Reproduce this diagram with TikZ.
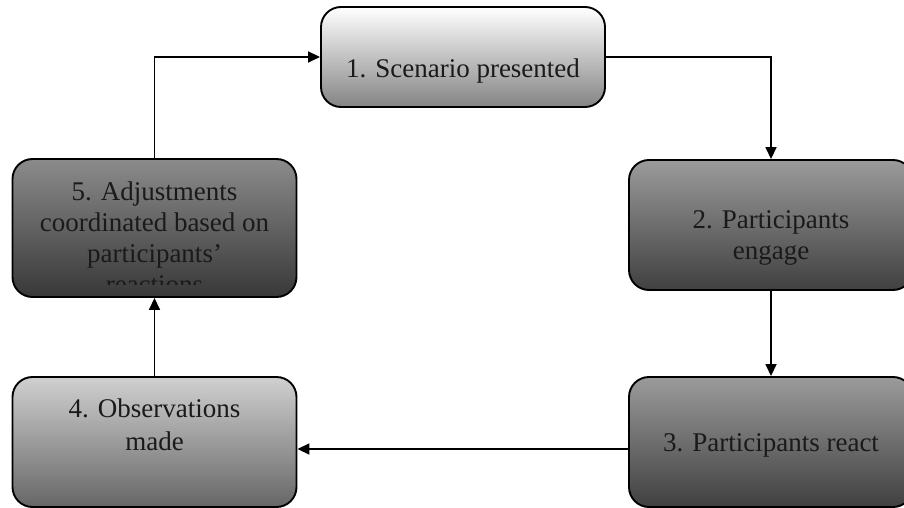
\documentclass[tikz,border=0pt]{standalone}
\usepackage{fontspec}
\setmainfont{Liberation Serif}
\usetikzlibrary{arrows.meta}
\definecolor{aTop}{HTML}{FFFFFF}
\definecolor{aBot}{HTML}{848484}
\definecolor{bTop}{HTML}{9B9B9B}
\definecolor{bBot}{HTML}{404040}
\definecolor{dTop}{HTML}{D0D0D0}
\definecolor{dBot}{HTML}{666666}
\definecolor{eTop}{HTML}{8B8B8B}
\definecolor{eBot}{HTML}{383838}
\definecolor{txt}{HTML}{1A1A1A}
\begin{document}
\begin{tikzpicture}[x=1pt,y=-1pt,
  box/.style={draw=black, line width=1.9pt, rounded corners=20pt, minimum width=284pt, inner sep=0pt},
  lbl/.style={font=\fontsize{27}{31}\selectfont, align=center, anchor=base, text=txt},
  arr/.style={line width=1.6pt, -{Triangle[length=12pt,width=11pt]}}]
\clip (0,0) rectangle (904,508);
\node[box, minimum height=100pt, top color=aTop, bottom color=aBot] (b1) at (463,57) {};
\node[box, minimum height=130pt, top color=bTop, bottom color=bBot] (b2) at (771,225) {};
\node[box, minimum height=130pt, top color=bTop, bottom color=bBot] (b3) at (771,442) {};
\node[box, minimum height=130pt, top color=dTop, bottom color=dBot] (b4) at (154.5,442) {};
\node[box, minimum height=138pt, top color=eTop, bottom color=eBot] (b5) at (154.5,228) {};
\node[lbl] (t1) at (463,78) {1. Scenario presented};
\node[lbl] (t2) at (771,259) {2. Participants\\engage};
\node[lbl] (t3) at (771,451) {3. Participants react};
\node[lbl] (t4) at (154.5,450) {4. Observations\\[2pt]made};
\begin{scope}
\clip (0,150) rectangle (310,284);
\node[lbl] (t5) at (154.5,293) {5. Adjustments\\coordinated based on\\participants’\\reactions};
\end{scope}
\draw[arr] (b1.east) -| (b2.north);
\draw[arr] (b2.south) -- (b3.north);
\draw[arr] ([yshift=-7pt]b3.west) -- ([yshift=-7pt]b4.east);
\draw[arr] (b4.north) -- (b5.south);
\draw[arr] (b5.north) |- (b1.west);
\end{tikzpicture}
\end{document}
